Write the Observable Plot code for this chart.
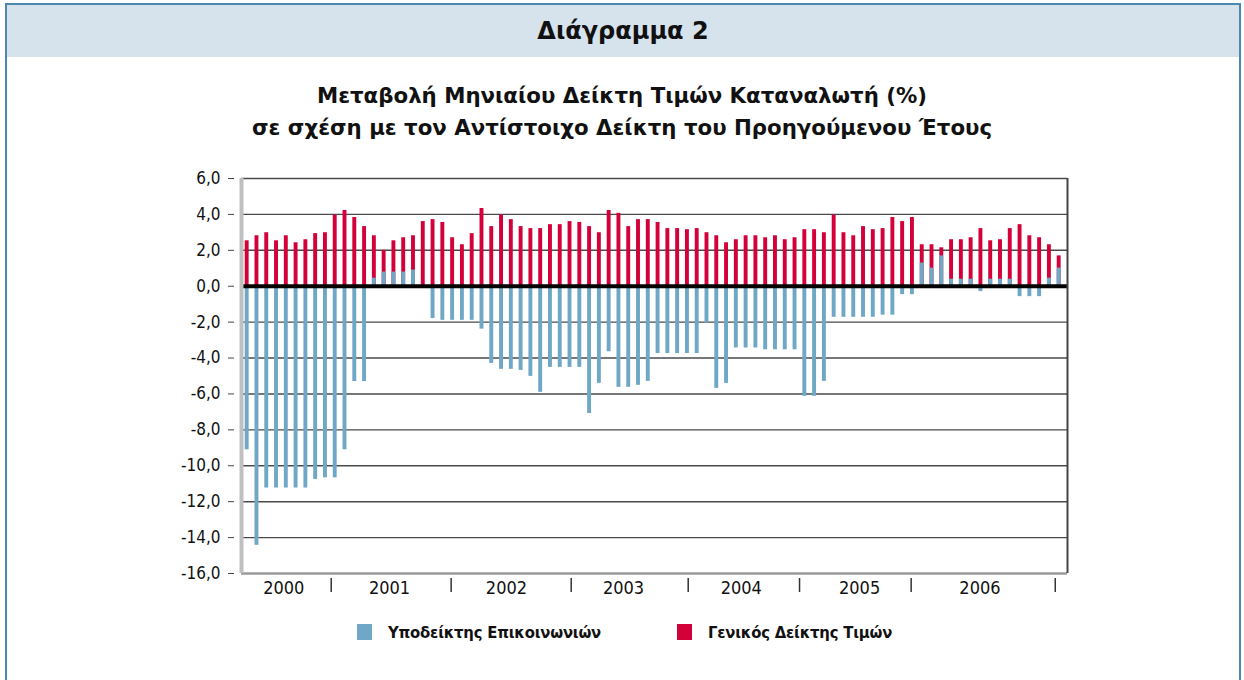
<!DOCTYPE html>
<html>
<head>
<meta charset="utf-8">
<script src="https://cdn.jsdelivr.net/npm/d3@7"></script>
<script src="https://cdn.jsdelivr.net/npm/@observablehq/plot@0.6"></script>
<style>
  html, body { margin: 0; padding: 0; background: #fff; }
  body { width: 1244px; height: 680px; overflow: hidden; position: relative; font-family: "DejaVu Sans", sans-serif; }
  #frame { position: absolute; left: 5px; top: 3px; width: 1236px; height: 720px; border: 2px solid #4a88b0; box-sizing: border-box; }
  #header { position: absolute; left: 0; top: 0; right: 0; height: 52px; background: #d6e3ed; display: flex; align-items: center; justify-content: center; font-weight: bold; font-size: 24px; color: #111; }
  #title { position: absolute; left: 0; right: 0; top: 80px; text-align: center; font-weight: bold; font-size: 21.3px; line-height: 32px; color: #111; }
  #chart { position: absolute; left: 0; top: 160px; }
  #legend { position: absolute; top: 622px; left: 0; width: 1244px; height: 20px; font-family: "Liberation Sans Narrow", "DejaVu Sans Condensed", "Arial Narrow", sans-serif; font-stretch: condensed; font-weight: bold; font-size: 16.5px; letter-spacing: -0.2px; color: #111; }
  .item { position: absolute; top: 0; display: flex; align-items: center; height: 20px; }
  .sw { width: 15px; height: 16px; margin-right: 16px; }
</style>
</head>
<body>
<div id="frame">
  <div id="header">Διάγραμμα 2</div>
</div>
<div id="title">Μεταβολή Μηνιαίου Δείκτη Τιμών Καταναλωτή (%)<br>σε σχέση με τον Αντίστοιχο Δείκτη του Προηγούμενου Έτους</div>
<div id="chart"></div>
<div id="legend">
  <div class="item" style="left:357px"><div class="sw" style="background:#6fa7c7"></div><span>Υποδείκτης Επικοινωνιών</span></div>
  <div class="item" style="left:677px"><div class="sw" style="background:#d3003a"></div><span>Γενικός Δείκτης Τιμών</span></div>
</div>
<script>
// Monthly values, 84 months (2000–2006)
const generalIndex = [
  2.53, 2.81, 2.98, 2.53, 2.81, 2.42, 2.59, 2.93, 2.98, 3.96, 4.22, 3.83,
  3.32, 2.81, 2.00, 2.53, 2.70, 2.81, 3.60, 3.71, 3.55, 2.70, 2.31, 2.93,
  4.33, 3.32, 3.96, 3.71, 3.32, 3.21, 3.21, 3.43, 3.43, 3.60, 3.55, 3.32,
  2.98, 4.22, 4.06, 3.32, 3.71, 3.71, 3.55, 3.21, 3.21, 3.15, 3.21, 2.98,
  2.81, 2.42, 2.59, 2.81, 2.81, 2.70, 2.81, 2.59, 2.70, 3.15, 3.15, 2.98,
  3.96, 2.98, 2.81, 3.32, 3.15, 3.21, 3.83, 3.60, 3.83, 2.31, 2.31, 2.14,
  2.59, 2.59, 2.70, 3.21, 2.53, 2.59, 3.21, 3.43, 2.81, 2.70, 2.31, 1.69
];
const commIndex = [
  -9.11, -14.43, -11.24, -11.24, -11.24, -11.24, -11.24, -10.76, -10.67, -10.67, -9.11, -5.31,
  -5.31, 0.45, 0.79, 0.79, 0.79, 0.90, 0.00, -1.80, -1.90, -1.90, -1.90, -1.90,
  -2.39, -4.30, -4.63, -4.63, -4.69, -5.02, -5.91, -4.52, -4.52, -4.52, -4.52, -7.09,
  -5.41, -3.65, -5.63, -5.63, -5.52, -5.30, -3.75, -3.75, -3.75, -3.75, -3.75, -2.05,
  -5.69, -5.41, -3.44, -3.44, -3.44, -3.54, -3.54, -3.54, -3.54, -6.13, -6.13, -5.30,
  -1.73, -1.73, -1.73, -1.73, -1.73, -1.61, -1.61, -0.47, -0.47, 1.29, 1.01, 1.69,
  0.39, 0.39, 0.39, -0.30, 0.39, 0.39, 0.39, -0.58, -0.58, -0.58, 0.45, 1.01
];
const yearLabels = ["2000", "2001", "2002", "2003", "2004", "2005", "2006"];
const yearLabelAt = [4.74, 15.55, 27.5, 39.47, 51.5, 63.6, 75.9];   // in month units
const yearTickAt = [9.59, 21.85, 34.12, 46.08, 57.46, 68.87, 83.6]; // in month units
const yTicks = [6, 4, 2, 0, -2, -4, -6, -8, -10, -12, -14, -16];

const RED = "#d3003a", BLUE = "#6fa7c7";
const months = generalIndex.map((g, k) => ({ i: k + 1, general: g, comm: commIndex[k] }));
const hw = 0.2;
const xDomain = [0.42, 84.85];
const yDomain = [-16, 6];
const tickFont = `"Liberation Sans Narrow", "DejaVu Sans Condensed", "Arial Narrow", sans-serif`;

const chart = Plot.plot({
  width: 1244,
  height: 450,
  marginLeft: 241,
  marginRight: 177,
  marginTop: 18,
  marginBottom: 37,
  style: { fontFamily: tickFont, fontSize: "17px", color: "#111", background: "transparent", overflow: "visible" },
  x: { type: "linear", domain: xDomain, axis: null },
  y: { domain: yDomain, axis: null },
  marks: [
    Plot.ruleY(yTicks.filter(v => v > -16), { stroke: "#4a4a4a", strokeWidth: 1.4 }),
    Plot.rectY(months, { x1: d => d.i - hw, x2: d => d.i + hw, y1: 0, y2: "general", fill: RED }),
    Plot.rectY(months, { x1: d => d.i - hw, x2: d => d.i + hw, y1: 0, y2: "comm", fill: BLUE }),
    Plot.ruleY([0], { stroke: "#000", strokeWidth: 4 }),
    Plot.ruleY([yDomain[0]], { stroke: "#9a9a9a", strokeWidth: 2.5 }),
    Plot.ruleX([xDomain[0]], { stroke: "#c0c0c0", strokeWidth: 4 }),
    Plot.ruleX([xDomain[1]], { stroke: "#444", strokeWidth: 2 }),
    Plot.axisY(yTicks, {
      anchor: "left",
      tickSize: 6,
      tickPadding: 8,
      dx: -7,
      stroke: "#444",
      fontSize: 17,
      tickFormat: d => d.toFixed(1).replace(".", ",")
    }),
    Plot.axisX(yearTickAt, { anchor: "bottom", tickSize: 14, dy: 5, stroke: "#333", strokeWidth: 1.5, tickFormat: () => "" }),
    Plot.text(yearLabels, { x: (d, k) => yearLabelAt[k], frameAnchor: "bottom", dy: 20, fontSize: 18, fill: "#111" })
  ]
});
document.getElementById("chart").appendChild(chart);
</script>
</body>
</html>
